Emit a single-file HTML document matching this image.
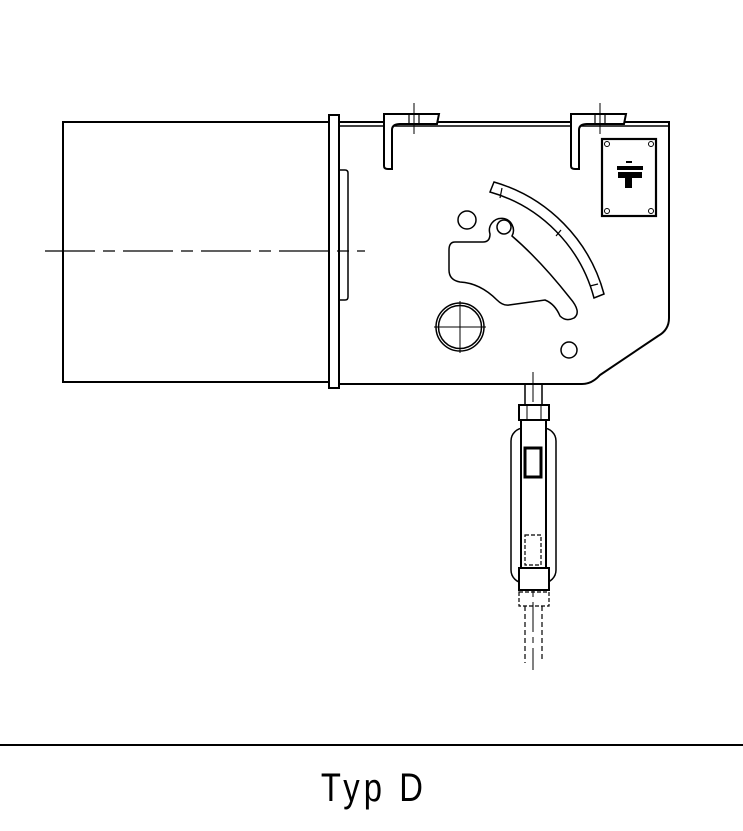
<!DOCTYPE html>
<html><head><meta charset="utf-8"><style>
html,body{margin:0;padding:0;background:#fff;width:743px;height:831px;overflow:hidden}
svg{display:block}
</style></head><body>
<svg width="743" height="831" viewBox="0 0 743 831" xmlns="http://www.w3.org/2000/svg" fill="none" stroke="#000" stroke-width="2">
<rect x="63" y="122" width="266" height="260"/>
<rect x="329" y="115" width="10" height="273" fill="#fff"/>
<line x1="45" y1="251" x2="365" y2="251" stroke-width="1.2" stroke-dasharray="50,8,12,8"/>
<path d="M339 122 H669 V318 Q669 330 658 336 L600 375 Q592 384 582 384 H339"/>
<line x1="339" y1="126" x2="669" y2="126" stroke-width="1.5"/>
<path d="M339 170 H345 Q348 170 348 173 V297 Q348 300 345 300 H339" stroke-width="1.5"/>
<path d="M384 122 V166 Q384 169 388 169 H392 V130 Q392 124 400 124 H437 L439 114 H384 Z" fill="#fff"/>
<line x1="409" y1="114" x2="409" y2="124" stroke-width="1.2"/>
<line x1="419" y1="114" x2="419" y2="124" stroke-width="1.2"/>
<line x1="414" y1="103" x2="414" y2="134" stroke-width="1"/>
<path d="M571 122 V166 Q571 169 575 169 H579 V130 Q579 124 587 124 H624 L626 114 H571 Z" fill="#fff"/>
<line x1="595" y1="114" x2="595" y2="124" stroke-width="1.2"/>
<line x1="605" y1="114" x2="605" y2="124" stroke-width="1.2"/>
<line x1="600" y1="103" x2="600" y2="134" stroke-width="1"/>
<rect x="602" y="139" width="54" height="77" stroke-width="2.2"/>
<g stroke-width="1"><circle cx="607" cy="144" r="2.5"/><circle cx="651" cy="144" r="2.5"/><circle cx="607" cy="211" r="2.5"/><circle cx="651" cy="211" r="2.5"/></g>
<g fill="#000" stroke="none">
<rect x="626" y="161" width="6" height="2"/>
<rect x="617" y="166" width="26" height="4"/>
<rect x="618" y="172" width="24" height="6"/>
<rect x="625" y="178" width="7" height="10"/>
</g>
<path d="M490 192 L494 182 A160 160 0 0 1 604 294 L594 298 A150 150 0 0 0 490 192 Z" stroke-width="1.5"/>
<line x1="502" y1="188" x2="500" y2="198" stroke-width="1.2"/>
<line x1="561" y1="230" x2="556" y2="236" stroke-width="1.2"/>
<line x1="590" y1="286" x2="598" y2="284" stroke-width="1.2"/>
<path d="M455 242 H483 Q490 242 490 234 A12 12 0 1 1 512 236 Q540 260 570 298 Q582 312 574 318 Q566 322 560 316 Q555 304 545 300 L509 305 Q503 306 497 300 Q480 283 460 282 Q449 280 449 270 V250 Q449 242 455 242 Z" stroke-width="1.5"/>
<circle cx="504" cy="227" r="7" stroke-width="1.5"/>
<circle cx="467" cy="220" r="9" stroke-width="1.5"/>
<circle cx="569" cy="350" r="8" stroke-width="1.5"/>
<circle cx="460" cy="327" r="24" stroke-width="1.5"/>
<circle cx="460" cy="327" r="21.5" stroke-width="1.5"/>
<line x1="434" y1="327" x2="486" y2="327" stroke-width="1"/>
<line x1="460" y1="301" x2="460" y2="353" stroke-width="1"/>
<line x1="533" y1="372" x2="533" y2="670" stroke-width="1" stroke-dasharray="30,5,6,5"/>
<line x1="525" y1="384" x2="525" y2="405" stroke-width="1.5"/>
<line x1="542" y1="384" x2="542" y2="405" stroke-width="1.5"/>
<rect x="511" y="428" width="45" height="155" rx="13" stroke-width="1.5"/>
<rect x="519" y="405" width="30" height="15" fill="#fff"/>
<line x1="527" y1="405" x2="527" y2="420" stroke-width="1"/>
<line x1="541" y1="405" x2="541" y2="420" stroke-width="1"/>
<rect x="521" y="420" width="25" height="170" fill="#fff"/>
<rect x="525" y="448" width="16" height="29" stroke-width="3"/>
<rect x="525" y="535" width="16" height="30" stroke-width="1.2" stroke-dasharray="4,2"/>
<rect x="519" y="568" width="30" height="22" fill="#fff"/>
<rect x="519" y="592" width="30" height="14" stroke-width="1.2" stroke-dasharray="4,2"/>
<path d="M525 606 V663 M542 606 V660" stroke-width="1.2" stroke-dasharray="5,3"/>
<line x1="0" y1="745" x2="743" y2="745" stroke-width="2"/>
<text x="374" y="801" text-anchor="middle" fill="#000" stroke="none" font-family="Liberation Sans, sans-serif" font-size="40" letter-spacing="5" transform="translate(374 0) scale(0.82 1) translate(-374 0)">Typ D</text>
</svg>
</body></html>
